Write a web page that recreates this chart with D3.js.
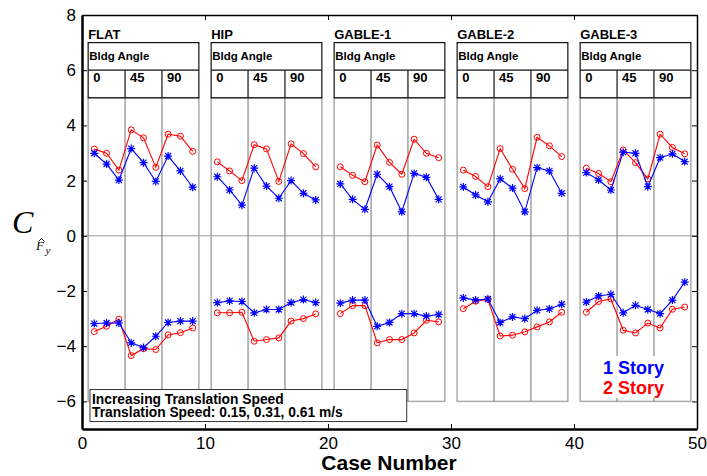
<!DOCTYPE html>
<html>
<head>
<meta charset="utf-8">
<script src="https://cdn.jsdelivr.net/npm/d3@7"></script>
<style>
  body { margin: 0; background: #fff; }
  text { font-family: "Liberation Sans", Arial, sans-serif; }
  text.serif { font-family: "Liberation Serif", "Times New Roman", serif; font-style: italic; }
</style>
</head>
<body>
<script>
const WIDTH = 707;
const HEIGHT = 476;

// data
const panelNames = ["FLAT", "HIP", "GABLE-1", "GABLE-2", "GABLE-3"];
const angleLabels = ["0", "45", "90"];
const caseNumbers = [
    [1, 2, 3, 4, 5, 6, 7, 8, 9],
    [11, 12, 13, 14, 15, 16, 17, 18, 19],
    [21, 22, 23, 24, 25, 26, 27, 28, 29],
    [31, 32, 33, 34, 35, 36, 37, 38, 39],
    [41, 42, 43, 44, 45, 46, 47, 48, 49]
];
// 1 Story (blue), positive side
const story1Pos = [
    [2.99, 2.60, 2.02, 3.16, 2.65, 1.97, 2.89, 2.35, 1.76],
    [2.14, 1.66, 1.11, 2.45, 1.80, 1.36, 2.00, 1.54, 1.30],
    [1.88, 1.32, 0.96, 2.23, 1.78, 0.87, 2.26, 2.12, 1.32],
    [1.77, 1.48, 1.23, 2.06, 1.73, 0.87, 2.47, 2.35, 1.54],
    [2.29, 2.02, 1.66, 3.03, 2.99, 1.78, 2.83, 2.97, 2.69]
];
// 1 Story (blue), negative side
const story1Neg = [
    [-3.18, -3.16, -3.16, -3.88, -4.05, -3.64, -3.14, -3.09, -3.09],
    [-2.42, -2.36, -2.38, -2.79, -2.67, -2.67, -2.42, -2.31, -2.42],
    [-2.44, -2.33, -2.33, -3.28, -3.14, -2.82, -2.82, -2.91, -2.85],
    [-2.25, -2.33, -2.29, -3.14, -2.94, -3.00, -2.70, -2.65, -2.48],
    [-2.40, -2.18, -2.12, -2.79, -2.52, -2.67, -2.82, -2.33, -1.68]
];
// 2 Story (red), positive side
const story2Pos = [
    [3.14, 2.99, 2.38, 3.84, 3.55, 2.48, 3.68, 3.61, 3.06],
    [2.68, 2.35, 2.00, 3.30, 3.15, 1.97, 3.33, 2.98, 2.50],
    [2.50, 2.19, 1.96, 3.29, 2.66, 2.23, 3.50, 2.99, 2.83],
    [2.38, 2.15, 1.78, 3.16, 2.41, 1.71, 3.57, 3.26, 2.87],
    [2.45, 2.26, 1.96, 3.11, 2.65, 2.06, 3.68, 3.20, 2.97]
];
// 2 Story (red), negative side
const story2Neg = [
    [-3.47, -3.28, -3.02, -4.34, -4.09, -4.12, -3.59, -3.51, -3.34],
    [-2.79, -2.79, -2.77, -3.82, -3.76, -3.70, -3.09, -3.00, -2.83],
    [-2.82, -2.53, -2.53, -3.88, -3.76, -3.76, -3.52, -3.06, -3.12],
    [-2.64, -2.37, -2.31, -3.63, -3.60, -3.48, -3.30, -3.12, -2.77],
    [-2.77, -2.38, -2.29, -3.42, -3.52, -3.16, -3.34, -2.66, -2.58]
];
const xTicks = [0, 10, 20, 30, 40, 50];
const yTicks = [8, 6, 4, 2, 0, -2, -4, -6];
const legendLabels = ["1 Story", "2 Story"];
const noteLines = ["Increasing Translation Speed", "Translation Speed: 0.15, 0.31, 0.61 m/s"];

const BLUE = "#0000ff";
const RED = "#ff0000";

const svg = d3.select("body").append("svg")
    .attr("width", WIDTH)
    .attr("height", HEIGHT);

const x = d3.scaleLinear().domain([0, 50]).range([82, 697]);
const y = d3.scaleLinear().domain([-7, 8]).range([429, 15]);

// zero line
svg.append("line")
    .attr("x1", x(0)).attr("x2", x(50))
    .attr("y1", y(0)).attr("y2", y(0))
    .attr("stroke", "#999").attr("stroke-width", 1);

// panels
const panels = svg.selectAll(".panel")
    .data(panelNames.map((name, i) => ({ name, i, lo: caseNumbers[i][0] - 0.5, hi: caseNumbers[i][8] + 0.5 })))
    .enter().append("g")
    .attr("class", "panel");

// gray outline of the panel body
panels.append("rect")
    .attr("x", d => x(d.lo))
    .attr("y", y(5))
    .attr("width", d => x(d.hi) - x(d.lo))
    .attr("height", y(-6) - y(5))
    .attr("fill", "none")
    .attr("stroke", "#aaa")
    .attr("stroke-width", 1.5);

// angle dividers
panels.each(function(d) {
    const g = d3.select(this);
    [d.lo + 3, d.lo + 6].forEach(v => {
        g.append("line")
            .attr("x1", x(v)).attr("x2", x(v))
            .attr("y1", y(5)).attr("y2", y(-6))
            .attr("stroke", "#888").attr("stroke-width", 1.2);
        g.append("line")
            .attr("x1", x(v)).attr("x2", x(v))
            .attr("y1", y(6)).attr("y2", y(5))
            .attr("stroke", "#111").attr("stroke-width", 1.2);
    });
});

// header box
panels.append("rect")
    .attr("x", d => x(d.lo))
    .attr("y", y(7))
    .attr("width", d => x(d.hi) - x(d.lo))
    .attr("height", y(5) - y(7))
    .attr("fill", "none")
    .attr("stroke", "#111")
    .attr("stroke-width", 1.2);

panels.append("line")
    .attr("x1", d => x(d.lo)).attr("x2", d => x(d.hi))
    .attr("y1", y(6)).attr("y2", y(6))
    .attr("stroke", "#111").attr("stroke-width", 1.2);

panels.append("text")
    .attr("x", d => x(d.lo))
    .attr("y", y(7) - 4)
    .attr("font-size", 13)
    .attr("font-weight", "bold")
    .text(d => d.name);

panels.append("text")
    .attr("x", d => x(d.lo) + 1)
    .attr("y", y(6) - 10)
    .attr("font-size", 11.5)
    .attr("font-weight", "bold")
    .text("Bldg Angle");

panels.each(function(d) {
    d3.select(this).selectAll(".angle")
        .data(angleLabels)
        .enter().append("text")
        .attr("class", "angle")
        .attr("x", (a, j) => x(d.lo + 3 * j) + 5)
        .attr("y", y(6) + 12)
        .attr("font-size", 13)
        .attr("font-weight", "bold")
        .text(a => a);
});

// series
const line = d3.line()
    .x(d => x(d.c))
    .y(d => y(d.v));

const series = [
    { data: story2Pos, color: RED, marker: "circle" },
    { data: story2Neg, color: RED, marker: "circle" },
    { data: story1Pos, color: BLUE, marker: "star" },
    { data: story1Neg, color: BLUE, marker: "star" }
];

series.forEach(s => {
    s.data.forEach((vals, i) => {
        const pts = vals.map((v, j) => ({ c: caseNumbers[i][j], v }));
        svg.append("path")
            .datum(pts)
            .attr("d", line)
            .attr("fill", "none")
            .attr("stroke", s.color)
            .attr("stroke-width", 1.1);
        if (s.marker === "circle") {
            svg.selectAll(null)
                .data(pts)
                .enter().append("circle")
                .attr("cx", d => x(d.c))
                .attr("cy", d => y(d.v))
                .attr("r", 3)
                .attr("fill", "none")
                .attr("stroke", s.color)
                .attr("stroke-width", 1);
        } else {
            svg.selectAll(null)
                .data(pts)
                .enter().append("path")
                .attr("transform", d => `translate(${x(d.c)},${y(d.v)})`)
                .attr("d", "M-4,0H4M0,-4V4M-3,-3L3,3M-3,3L3,-3")
                .attr("stroke", s.color)
                .attr("stroke-width", 1.2);
        }
    });
});

// note box
const note = svg.append("g");
note.append("rect")
    .attr("x", x(0.65))
    .attr("y", y(-5.57))
    .attr("width", x(26.4) - x(0.65))
    .attr("height", y(-6.73) - y(-5.57))
    .attr("fill", "#fff")
    .attr("stroke", "#333")
    .attr("stroke-width", 1);
note.selectAll("text")
    .data(noteLines)
    .enter().append("text")
    .attr("x", x(0.65) + 2)
    .attr("y", (d, i) => y(-5.57) + 14 + i * 13.5)
    .attr("font-size", 13.8)
    .attr("font-weight", "bold")
    .text(d => d);

// legend
svg.append("rect")
    .attr("x", 596).attr("y", 356)
    .attr("width", 80).attr("height", 42)
    .attr("fill", "#fff");
svg.selectAll(".legend")
    .data(legendLabels)
    .enter().append("text")
    .attr("class", "legend")
    .attr("x", 603)
    .attr("y", (d, i) => 374 + i * 20)
    .attr("font-size", 18)
    .attr("font-weight", "bold")
    .attr("fill", (d, i) => i === 0 ? BLUE : RED)
    .text(d => d);

// axes
const left = svg.append("g")
    .attr("transform", `translate(${x(0)},0)`)
    .call(d3.axisLeft(y).tickValues(yTicks).tickSizeInner(-5).tickSizeOuter(0).tickPadding(6));
const bottom = svg.append("g")
    .attr("transform", `translate(0,${y(-7)})`)
    .call(d3.axisBottom(x).tickValues(xTicks).tickSizeInner(-5).tickSizeOuter(0).tickPadding(8));
svg.append("g")
    .attr("transform", `translate(0,${y(8)})`)
    .call(d3.axisTop(x).tickValues(xTicks).tickSizeInner(-5).tickSizeOuter(0).tickFormat(""));
svg.append("g")
    .attr("transform", `translate(${x(50)},0)`)
    .call(d3.axisRight(y).tickValues(yTicks).tickSizeInner(-5).tickSizeOuter(0).tickFormat(""));

svg.selectAll(".domain").attr("stroke", "#000").attr("stroke-width", 1.5);
left.select(".domain").attr("stroke-width", 2.5);
bottom.select(".domain").attr("stroke-width", 2.5);
svg.selectAll(".tick line").attr("stroke", "#000");
svg.selectAll(".tick text")
    .attr("font-family", "'Liberation Sans', Arial, sans-serif")
    .attr("font-size", 17)
    .attr("fill", "#000");

// axis titles
svg.append("text")
    .attr("x", 389)
    .attr("y", 470)
    .attr("text-anchor", "middle")
    .attr("font-size", 21)
    .attr("font-weight", "bold")
    .text("Case Number");

// C with subscript F-hat y
svg.append("text").attr("class", "serif").attr("x", 12).attr("y", 233).attr("font-size", 32).text("C");
svg.append("text").attr("class", "serif").attr("x", 36).attr("y", 250).attr("font-size", 13).text("F");
svg.append("path")
    .attr("d", "M38.5,241.5L41.5,238.5L44.5,241.5")
    .attr("fill", "none").attr("stroke", "#000").attr("stroke-width", 0.9);
svg.append("text").attr("class", "serif").attr("x", 45.5).attr("y", 254).attr("font-size", 11).text("y");
</script>
</body>
</html>
